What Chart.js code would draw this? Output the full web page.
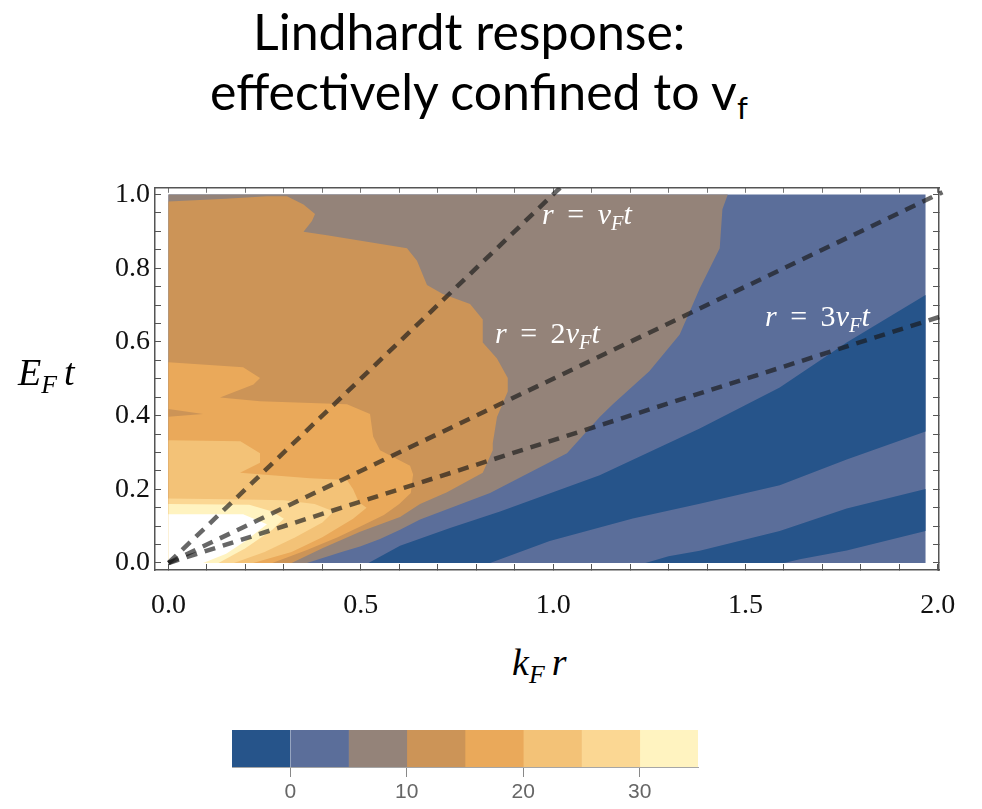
<!DOCTYPE html>
<html>
<head>
<meta charset="utf-8">
<script src="https://cdn.jsdelivr.net/npm/chart.js@4.4.0/dist/chart.umd.min.js"></script>
<style>
body { margin: 0; background: #fff; width: 982px; height: 809px; position: relative; overflow: hidden; }
.title { position: absolute; white-space: nowrap; font-family: Lato, sans-serif; font-size: 50px; line-height: 1; color: #000; }
.title sub { font-size: 62%; line-height: 0; vertical-align: -0.28em; }
.math { position: absolute; white-space: nowrap; font-family: "Liberation Serif", serif; line-height: 1; z-index: 2; }
.math sub { font-size: 68%; line-height: 0; vertical-align: -0.3em; }
.gap { display: inline-block; width: 7px; }
.inplot { color: #fff; font-size: 30px; }
#plotBox { position: absolute; left: 0; top: 160px; width: 982px; height: 480px; }
#barBox { position: absolute; left: 0; top: 720px; width: 982px; height: 89px; }
</style>
</head>
<body>

<div class="title" style="left:253px; top:6px;">Lindhardt response:</div>
<div class="title" style="left:210px; top:66px;">effectively confined to v<sub>f</sub></div>

<div id="plotBox"><canvas id="contourChart"></canvas></div>
<div id="barBox"><canvas id="legendChart"></canvas></div>

<div class="math" style="left:18px; top:353px; font-size:38px;"><i>E</i><sub><i>F</i></sub><span class="gap"></span><i>t</i></div>
<div class="math" style="left:512px; top:643px; font-size:38px;"><i>k</i><sub><i>F</i></sub><span class="gap"></span><i>r</i></div>

<div class="math inplot" style="left:542px; top:199px;"><i>r</i> &thinsp;=&thinsp; <i>v</i><sub><i>F</i></sub><i>t</i></div>
<div class="math inplot" style="left:495px; top:318px;"><i>r</i> &thinsp;=&thinsp; 2<i>v</i><sub><i>F</i></sub><i>t</i></div>
<div class="math inplot" style="left:765px; top:301px;"><i>r</i> &thinsp;=&thinsp; 3<i>v</i><sub><i>F</i></sub><i>t</i></div>

<script>
/* ------------------------------
   DATA
--------------------------------*/

const levelEdges = [-5, 0, 5, 10, 15, 20, 25, 30, 35];
const levelColors = ["#26548a", "#5b6e9a", "#948379", "#cc9457", "#eaa95a", "#f3c277", "#fbd793", "#fff3c0"];

const xTickValues = [0, 0.1, 0.2, 0.3, 0.4, 0.5, 0.6, 0.7, 0.8, 0.9, 1, 1.1, 1.2, 1.3, 1.4, 1.5, 1.6, 1.7, 1.8, 1.9, 2];
const xLabelValues = [0, 0.5, 1, 1.5, 2];
const yTickValues = [0, 0.05, 0.1, 0.15, 0.2, 0.25, 0.3, 0.35, 0.4, 0.45, 0.5, 0.55, 0.6, 0.65, 0.7, 0.75, 0.8, 0.85, 0.9, 0.95, 1];
const yLabelValues = [0, 0.2, 0.4, 0.6, 0.8, 1];
const barTickValues = [0, 10, 20, 30];

// contour regions as [kF r, EF t] outlines, painted bottom to top
const regionMidBlue = [[0, 0], [1.968, 0], [1.968, 1.0], [0, 1.0]];
const regionDarkA = [[0.52, 0], [0.602, 0.047], [0.732, 0.095], [0.862, 0.14], [1.121, 0.238], [1.381, 0.365],
    [1.589, 0.476], [1.763, 0.598], [1.968, 0.727], [1.968, 0.357], [1.763, 0.281], [1.589, 0.211],
    [1.381, 0.161], [1.207, 0.121], [0.991, 0.06], [0.836, 0]];
const regionDarkB = [[1.24, 0], [1.30, 0.018], [1.381, 0.033], [1.589, 0.087], [1.763, 0.148], [1.968, 0.201],
    [1.968, 0.087], [1.763, 0.034], [1.641, 0.01], [1.60, 0]];
const regionGray = [[0, 0], [0.36, 0], [0.45, 0.03], [0.498, 0.045], [0.55, 0.065], [0.602, 0.09], [0.654, 0.118],
    [0.836, 0.19], [1.036, 0.298], [1.121, 0.396], [1.155, 0.431], [1.25, 0.52], [1.329, 0.62], [1.381, 0.745],
    [1.433, 0.854], [1.44, 0.96], [1.454, 1.0], [0, 1.0]];
const regionBrown = [[0, 0], [0.32, 0], [0.40, 0.04], [0.498, 0.085], [0.602, 0.125], [0.654, 0.16], [0.724, 0.192],
    [0.817, 0.245], [0.843, 0.306], [0.843, 0.325], [0.854, 0.396], [0.882, 0.465], [0.882, 0.502], [0.854, 0.555],
    [0.817, 0.598], [0.817, 0.661], [0.784, 0.703], [0.713, 0.73], [0.672, 0.754], [0.646, 0.82], [0.62, 0.854],
    [0.412, 0.889], [0.351, 0.899], [0.373, 0.928], [0.381, 0.947], [0.351, 0.973], [0.308, 0.995],
    [0.256, 0.995], [0.15, 0.988], [0, 0.981]];
const regionOrange = [[0, 0], [0.27, 0], [0.36, 0.035], [0.44, 0.07], [0.50, 0.10], [0.56, 0.13], [0.60, 0.16],
    [0.63, 0.19], [0.633, 0.219], [0.636, 0.24], [0.628, 0.264], [0.55, 0.306], [0.532, 0.343], [0.524, 0.404],
    [0.464, 0.431], [0.238, 0.439], [0.134, 0.449], [0.221, 0.484], [0.238, 0.502], [0.194, 0.531], [0, 0.545]];
const regionBrownSliver = [[0, 0.397], [0.09, 0.404], [0, 0.418]];
const regionLightOrange = [[0, 0], [0.22, 0], [0.32, 0.03], [0.40, 0.07], [0.48, 0.12], [0.515, 0.15], [0.495, 0.165],
    [0.48, 0.2], [0.464, 0.225], [0.368, 0.23], [0.186, 0.245], [0.238, 0.272], [0.238, 0.298], [0.187, 0.33], [0, 0.333]];
const regionPale = [[0, 0], [0.17, 0], [0.25, 0.03], [0.33, 0.07], [0.40, 0.11], [0.43, 0.14], [0.38, 0.16],
    [0.30, 0.17], [0.20, 0.172], [0, 0.175]];
const regionYellow = [[0, 0], [0.13, 0], [0.20, 0.04], [0.27, 0.09], [0.30, 0.12], [0.27, 0.14], [0.21, 0.158], [0, 0.16]];
const regionWhite = [[0, 0], [0.09, 0], [0.15, 0.025], [0.20, 0.06], [0.256, 0.105], [0.194, 0.132], [0, 0.132]];

// r = v_F t, r = 2 v_F t, r = 3 v_F t
const guideEnds = [[1.018, 1.018], [2.012, 1.006], [2.017, 0.672]];

/* ------------------------------
   CONTOUR PLOT
--------------------------------*/

const layers = [
    [regionMidBlue, levelColors[1]],
    [regionDarkA, levelColors[0]],
    [regionDarkB, levelColors[0]],
    [regionGray, levelColors[2]],
    [regionBrown, levelColors[3]],
    [regionOrange, levelColors[4]],
    [regionBrownSliver, levelColors[3]],
    [regionLightOrange, levelColors[5]],
    [regionPale, levelColors[6]],
    [regionYellow, levelColors[7]],
    [regionWhite, "#ffffff"]
];

let datasets = [];
let total = layers.length + guideEnds.length;

layers.forEach((layer, i) => {
    datasets.push({
        data: layer[0].map(p => ({ x: p[0], y: p[1] })),
        showLine: true,
        fill: "shape",
        backgroundColor: layer[1],
        borderWidth: 0,
        pointRadius: 0,
        tension: 0,
        order: total - i
    });
});

guideEnds.forEach((end, i) => {
    datasets.push({
        data: [{ x: 0, y: 0 }, { x: end[0], y: end[1] }],
        showLine: true,
        fill: false,
        borderColor: "rgba(25,25,25,0.66)",
        borderWidth: 4.5,
        borderDash: [11, 8],
        pointRadius: 0,
        clip: { left: 0, top: 0, right: 8, bottom: 0 },
        order: 1
    });
});

function isLabel(list, v) {
    return list.some(l => Math.abs(l - v) < 1e-6);
}

let tickFont = { family: "Liberation Serif", size: 28 };
let frame = { display: true, color: "#555", width: 1.5 };

let contourChart = new Chart(document.getElementById("contourChart"), {
    type: "scatter",
    data: { datasets: datasets },
    options: {
        responsive: true,
        maintainAspectRatio: false,
        animation: false,
        layout: { padding: { left: 0, top: 18, right: 43, bottom: 0 } },
        plugins: { legend: { display: false }, tooltip: { enabled: false } },
        scales: {
            x: {
                type: "linear", position: "bottom", min: -0.035, max: 2.003,
                afterBuildTicks: s => { s.ticks = xTickValues.map(v => ({ value: v })); },
                afterFit: s => { s.height = 70; },
                ticks: {
                    autoSkip: false, maxRotation: 0, padding: 25, font: tickFont, color: "#111",
                    callback: v => isLabel(xLabelValues, v) ? v.toFixed(1) : ""
                },
                grid: { drawOnChartArea: false, drawTicks: true, tickLength: -6, color: "#555" },
                border: frame
            },
            x2: {
                type: "linear", position: "top", min: -0.035, max: 2.003,
                afterBuildTicks: s => { s.ticks = xTickValues.map(v => ({ value: v })); },
                afterFit: s => { s.height = 0; },
                ticks: { display: false },
                grid: { drawOnChartArea: false, drawTicks: true, tickLength: -5, color: "#777" },
                border: frame
            },
            y: {
                type: "linear", position: "left", min: -0.019, max: 1.018,
                afterBuildTicks: s => { s.ticks = yTickValues.map(v => ({ value: v })); },
                afterFit: s => { s.width = 155; },
                ticks: {
                    autoSkip: false, padding: 11, font: tickFont, color: "#111",
                    callback: v => isLabel(yLabelValues, v) ? v.toFixed(1) : ""
                },
                grid: { drawOnChartArea: false, drawTicks: true, tickLength: -6, color: "#555" },
                border: frame
            },
            y2: {
                type: "linear", position: "right", min: -0.019, max: 1.018,
                afterBuildTicks: s => { s.ticks = yTickValues.map(v => ({ value: v })); },
                afterFit: s => { s.width = 0; },
                ticks: { display: false },
                grid: { drawOnChartArea: false, drawTicks: true, tickLength: -6, color: "#555" },
                border: frame
            }
        }
    }
});

/* ------------------------------
   COLOUR BAR
--------------------------------*/

let legendChart = new Chart(document.getElementById("legendChart"), {
    type: "bar",
    data: {
        labels: ["levels"],
        datasets: levelColors.map((c, i) => ({
            data: [[levelEdges[i], levelEdges[i + 1]]],
            backgroundColor: c,
            borderWidth: 0,
            grouped: false,
            barPercentage: 1,
            categoryPercentage: 1
        }))
    },
    options: {
        indexAxis: "y",
        responsive: true,
        maintainAspectRatio: false,
        animation: false,
        layout: { padding: { left: 232, top: 10, right: 284, bottom: 0 } },
        plugins: { legend: { display: false }, tooltip: { enabled: false } },
        scales: {
            x: {
                type: "linear", min: -5, max: 35,
                afterBuildTicks: s => { s.ticks = barTickValues.map(v => ({ value: v })); },
                afterFit: s => { s.height = 42; },
                ticks: { padding: 3, font: { family: "Liberation Sans", size: 21 }, color: "#666" },
                grid: { drawOnChartArea: false, drawTicks: true, tickLength: 10, color: "#888" },
                border: { display: true, color: "rgba(0,0,0,0.35)", width: 1 }
            },
            y: { display: false }
        }
    }
});
</script>
</body>
</html>
